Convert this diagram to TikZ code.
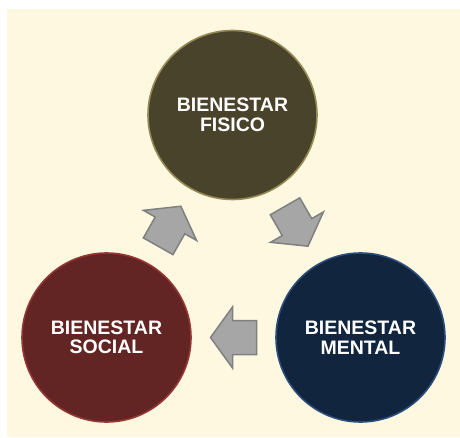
\documentclass[tikz,border=0pt]{standalone}
\usepackage{fontspec}
\setmainfont{Liberation Sans}
\usetikzlibrary{calc}
\definecolor{bgcream}{HTML}{FFF8E1}
\definecolor{fisfill}{HTML}{4A432B}
\definecolor{fisline}{HTML}{948A54}
\definecolor{socfill}{HTML}{632523}
\definecolor{socline}{HTML}{953735}
\definecolor{menfill}{HTML}{11253F}
\definecolor{menline}{HTML}{2A4D7A}
\definecolor{arrfill}{HTML}{A6A6A6}
\definecolor{arrline}{HTML}{808080}
\tikzset{
  bubble/.style={circle, minimum size=169pt, inner sep=0pt, line width=1.6pt,
    text=white, font=\bfseries\fontsize{19.5}{19.5}\selectfont, align=center},
  blockarrow/.style={fill=arrfill, draw=arrline, line width=1.5pt, line join=miter},
}
\newcommand{\blockarr}[2]{%
  \begin{scope}[shift={(#1)}, rotate=#2]
    \draw[blockarrow] (23,0) -- (1,30.5) -- (1,17) -- (-23,17) -- (-23,-17) -- (1,-17) -- (1,-30.5) -- cycle;
  \end{scope}}
\begin{document}
\begin{tikzpicture}[x=1pt, y=-1pt]
  \useasboundingbox (0,0) rectangle (460,438);
  \fill[bgcream] (7,9) rectangle (460,437);
  \node[bubble, fill=fisfill, draw=fisline] (fisico) at (232.5,115) {BIENESTAR\\FISICO};
  \node[bubble, fill=socfill, draw=socline] (social) at (106.5,337.5) {BIENESTAR\\SOCIAL};
  \node[bubble, fill=menfill, draw=menline] (mental) at (360.5,337.5) {BIENESTAR\\MENTAL};
  \coordinate (a1) at ($(social)!0.5!(fisico)$);
  \coordinate (a2) at ($(fisico)!0.5!(mental)$);
  \coordinate (a3) at ($(mental)!0.5!(social)$);
  \blockarr{a1}{60.5}
  \blockarr{a2}{-60.1}
  \blockarr{a3}{180}
\end{tikzpicture}
\end{document}
